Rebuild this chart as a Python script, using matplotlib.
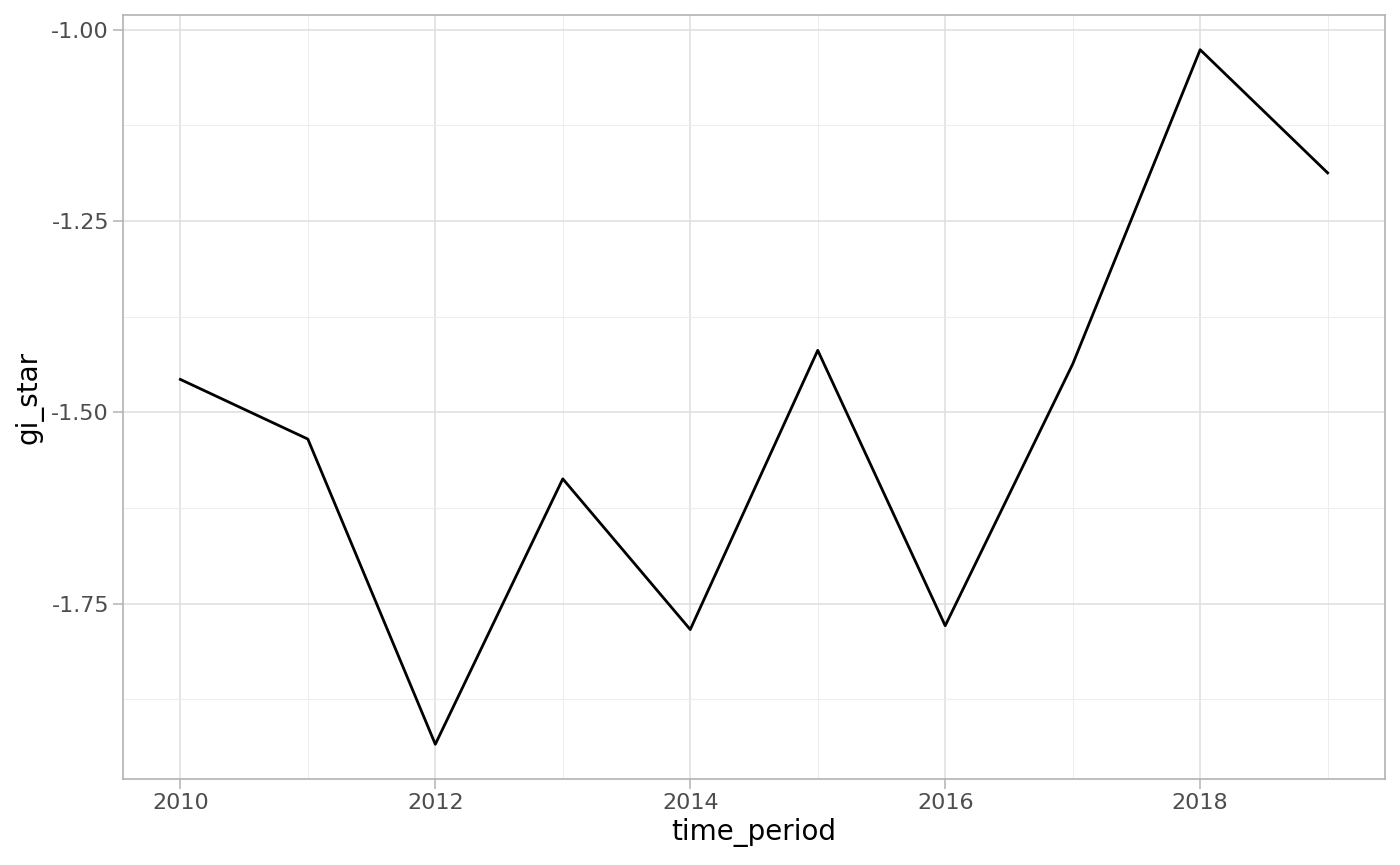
import numpy as np
import matplotlib
matplotlib.use('Agg')
import matplotlib.pyplot as plt
from matplotlib.ticker import MultipleLocator, FormatStrFormatter

# values
time_period = [2010, 2011, 2012, 2013, 2014, 2015, 2016, 2017, 2018, 2019]
gi_star = [-1.457, -1.535, -1.934, -1.587, -1.784, -1.419, -1.779, -1.437, -1.026, -1.187]

fig = plt.figure(figsize=(14, 8.65), dpi=100)
ax = fig.add_axes([123/1400, 1 - 779/865, (1385 - 123)/1400, (779 - 15)/865])

ax.plot(time_period, gi_star, color='black', linewidth=2, zorder=3)

# ggplot style expansion (5%)
xr = max(time_period) - min(time_period)
ax.set_xlim(min(time_period) - 0.05*xr, max(time_period) + 0.05*xr)
yr = max(gi_star) - min(gi_star)
ax.set_ylim(min(gi_star) - 0.05*yr, max(gi_star) + 0.05*yr)

ax.xaxis.set_major_locator(MultipleLocator(2))
ax.xaxis.set_minor_locator(MultipleLocator(1))
ax.yaxis.set_major_locator(MultipleLocator(0.25))
ax.yaxis.set_minor_locator(MultipleLocator(0.125))
ax.yaxis.set_major_formatter(FormatStrFormatter('%.2f'))
ax.xaxis.set_major_formatter(FormatStrFormatter('%d'))

ax.grid(which='major', color='#DEDEDE', linewidth=1.1, zorder=0)
ax.grid(which='minor', color='#EDEDED', linewidth=0.7, zorder=0)
ax.set_axisbelow(True)

for s in ax.spines.values():
    s.set_color('#B3B3B3')
    s.set_linewidth(1.2)

ax.tick_params(which='major', length=7, width=1.1, color='#B3B3B3',
               labelcolor='#4D4D4D', labelsize=16, pad=3)
ax.tick_params(which='minor', length=0)

ax.set_xlabel('time_period', fontsize=20, color='black', labelpad=4)
ax.set_ylabel('gi_star', fontsize=20, color='black', labelpad=6)

fig.savefig('out.png', dpi=100, facecolor='white')
